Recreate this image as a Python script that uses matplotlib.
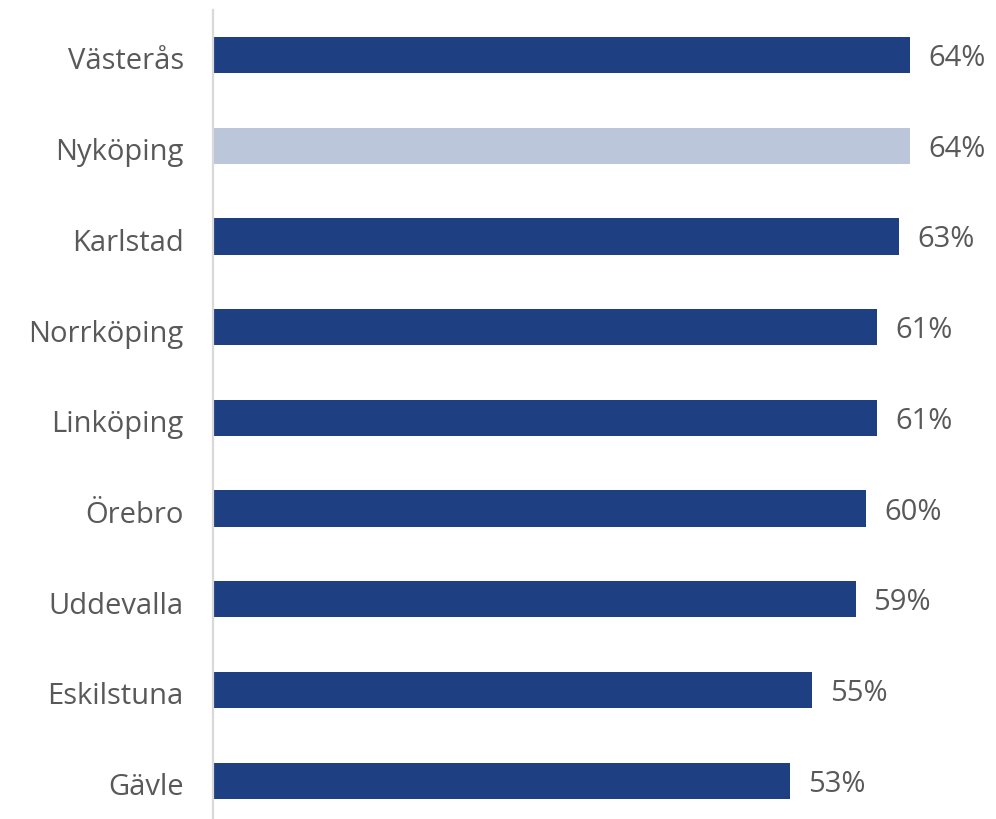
import matplotlib.pyplot as plt
from matplotlib.transforms import ScaledTranslation

# データ
cities = ['Västerås', 'Nyköping', 'Karlstad', 'Norrköping', 'Linköping',
          'Örebro', 'Uddevalla', 'Eskilstuna', 'Gävle']
values = [64, 64, 63, 61, 61, 60, 59, 55, 53]
highlight = 'Nyköping'

dark = '#1F3F83'
light = '#BCC6DA'
text_color = '#595959'

plt.rcParams['font.family'] = ['Open Sans', 'DejaVu Sans']

W, H = 996, 819
fig = plt.figure(figsize=(W / 100, H / 100), dpi=100)

# 軸の位置（ピクセル基準）
left, right = 213, 996
top, bottom = 9.6, 826
ax = fig.add_axes([left / W, (H - bottom) / H, (right - left) / W, (bottom - top) / H])

ypos = list(range(len(cities)))
colors = [light if c == highlight else dark for c in cities]
ax.barh(ypos, values, height=0.4, color=colors)

ax.set_ylim(len(cities) - 0.5, -0.5)
ax.set_xlim(0, (right - left) / 10.89)

ax.set_yticks(ypos)
ax.set_yticklabels(cities, fontsize=21, color=text_color)
ax.tick_params(axis='y', length=0, pad=21)
ax.set_xticks([])

# 文字を少し下げる（バー中心に合わせる）
shift = ScaledTranslation(0, -3.5 / 100, fig.dpi_scale_trans)
for lbl in ax.get_yticklabels():
    lbl.set_transform(lbl.get_transform() + shift)

for s in ['top', 'right', 'bottom']:
    ax.spines[s].set_visible(False)
ax.spines['left'].set_color('#D9D9D9')
ax.spines['left'].set_linewidth(1.6)

for y, v in zip(ypos, values):
    ax.text(v + 1.65, y, f'{v}%', va='center', ha='left', fontsize=21,
            color=text_color, transform=ax.transData + shift)

fig.savefig('out.png', dpi=100)
